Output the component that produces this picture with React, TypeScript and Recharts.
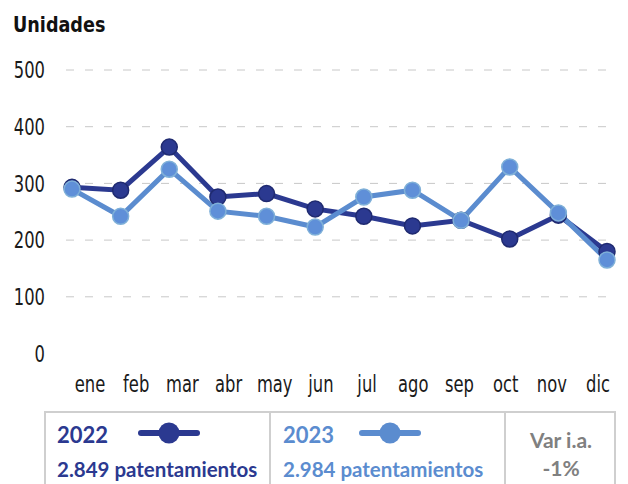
import * as React from "react";
import {CartesianGrid, Line, LineChart, XAxis, YAxis} from "recharts";

const MESES = ["ene", "feb", "mar", "abr", "may", "jun", "jul", "ago", "sep", "oct", "nov", "dic"];
const VALORES_2022 = [293, 288, 364, 276, 282, 255, 242, 225, 235, 202, 244, 180];
const VALORES_2023 = [290, 242, 325, 251, 242, 223, 276, 288, 235, 329, 248, 165];
const Y_TICKS = [0, 100, 200, 300, 400, 500];
const GRID_VALUES = [100, 200, 300, 400, 500];

const COLOR_2022 = "#2b3990";
const COLOR_2023 = "#5b8ccf";
const NARROW = "'Liberation Sans Narrow', 'DejaVu Sans Condensed', sans-serif";
const LEGEND_FONT = "Lato, 'Open Sans', sans-serif";

const data = MESES.map((mes, i) => ({mes, y2022: VALORES_2022[i], y2023: VALORES_2023[i]}));

// condensed tick text: the installed condensed face is still wider than the original
const NarrowTick = (props: any) => {
    const {x, y, payload, textAnchor, dy} = props;
    return (
        <g transform={`translate(${x},${y}) scale(0.79,1)`}>
            <text x={0} y={0} dy={dy} textAnchor={textAnchor} fill="#1a1a1a" fontSize={23}>{payload.value}</text>
        </g>
    );
};

const XTick = (props: any) => <NarrowTick {...props} dy="0.71em"/>;
const YTick = (props: any) => <NarrowTick {...props} dy="0.355em"/>;

const LegendIcon = ({color}: {color: string}) => (
    <svg width={62} height={24} style={{position: "absolute"}}>
        <line x1={3} y1={12} x2={59} y2={12} stroke={color} strokeWidth={6} strokeLinecap="round"/>
        <circle cx={31} cy={12} r={10.5} fill={color}/>
    </svg>
);

export default function App() {
    return (
        <div style={{position: "absolute", left: 0, top: 0, width: 628, height: 484, overflow: "hidden", background: "#fff"}}>
            <div style={{position: "absolute", left: 13, top: 12, fontFamily: NARROW, fontWeight: "bold", fontSize: 22,
                color: "#111", transform: "scaleX(0.89)", transformOrigin: "left top"}}>
                Unidades
            </div>
            <LineChart width={628} height={400} data={data} margin={{top: 70, right: 13, bottom: 0, left: 0}}
                       style={{fontFamily: NARROW}}>
                <CartesianGrid xAxisId="pts" vertical={false} horizontalValues={GRID_VALUES}
                               stroke="#c8c8c8" strokeDasharray="8 11"/>
                <XAxis xAxisId="pts" dataKey="mes" hide padding={{left: 6, right: 8}}/>
                <XAxis xAxisId="lbl" dataKey="mes" padding={{left: 24, right: 17}} axisLine={false}
                       tickLine={false} tickSize={0} tickMargin={22} interval={0} height={46.5}
                       tick={<XTick/>}/>
                <YAxis type="number" domain={[0, 500]} ticks={Y_TICKS} width={66} axisLine={false}
                       tickLine={false} tickSize={0} tickMargin={21} tick={<YTick/>}/>
                <Line xAxisId="pts" type="linear" dataKey="y2022" stroke={COLOR_2022} strokeWidth={5}
                      dot={{r: 8, fill: COLOR_2022, stroke: "#1f2a70", strokeWidth: 1.5}} isAnimationActive={false}/>
                <Line xAxisId="pts" type="linear" dataKey="y2023" stroke={COLOR_2023} strokeWidth={5}
                      dot={{r: 8, fill: "#5f8fd8", stroke: "#7fb0d8", strokeWidth: 1.5}} isAnimationActive={false}/>
            </LineChart>
            <div style={{position: "absolute", left: 44, top: 411, width: 572, height: 90, border: "2px solid #cfcfcf",
                boxSizing: "border-box", fontFamily: LEGEND_FONT, fontWeight: "bold"}}>
                <div style={{position: "absolute", left: 223, top: 0, bottom: 0, borderLeft: "2px solid #cfcfcf"}}/>
                <div style={{position: "absolute", left: 458, top: 0, bottom: 0, borderLeft: "2px solid #cfcfcf"}}/>

                <div style={{position: "absolute", left: 11, top: 8, fontSize: 22, color: COLOR_2022}}>2022</div>
                <div style={{position: "absolute", left: 92, top: 8}}><LegendIcon color={COLOR_2022}/></div>
                <div style={{position: "absolute", left: 11, top: 44, fontSize: 20.5, color: COLOR_2022}}>2.849 patentamientos</div>

                <div style={{position: "absolute", left: 237, top: 8, fontSize: 22, color: COLOR_2023}}>2023</div>
                <div style={{position: "absolute", left: 313, top: 8}}><LegendIcon color={COLOR_2023}/></div>
                <div style={{position: "absolute", left: 237, top: 44, fontSize: 20.5, color: COLOR_2023}}>2.984 patentamientos</div>

                <div style={{position: "absolute", left: 460, width: 110, top: 13, fontSize: 21, color: "#808080",
                    textAlign: "center", lineHeight: "28px"}}>
                    Var i.a.<br/>-1%
                </div>
            </div>
        </div>
    );
}
